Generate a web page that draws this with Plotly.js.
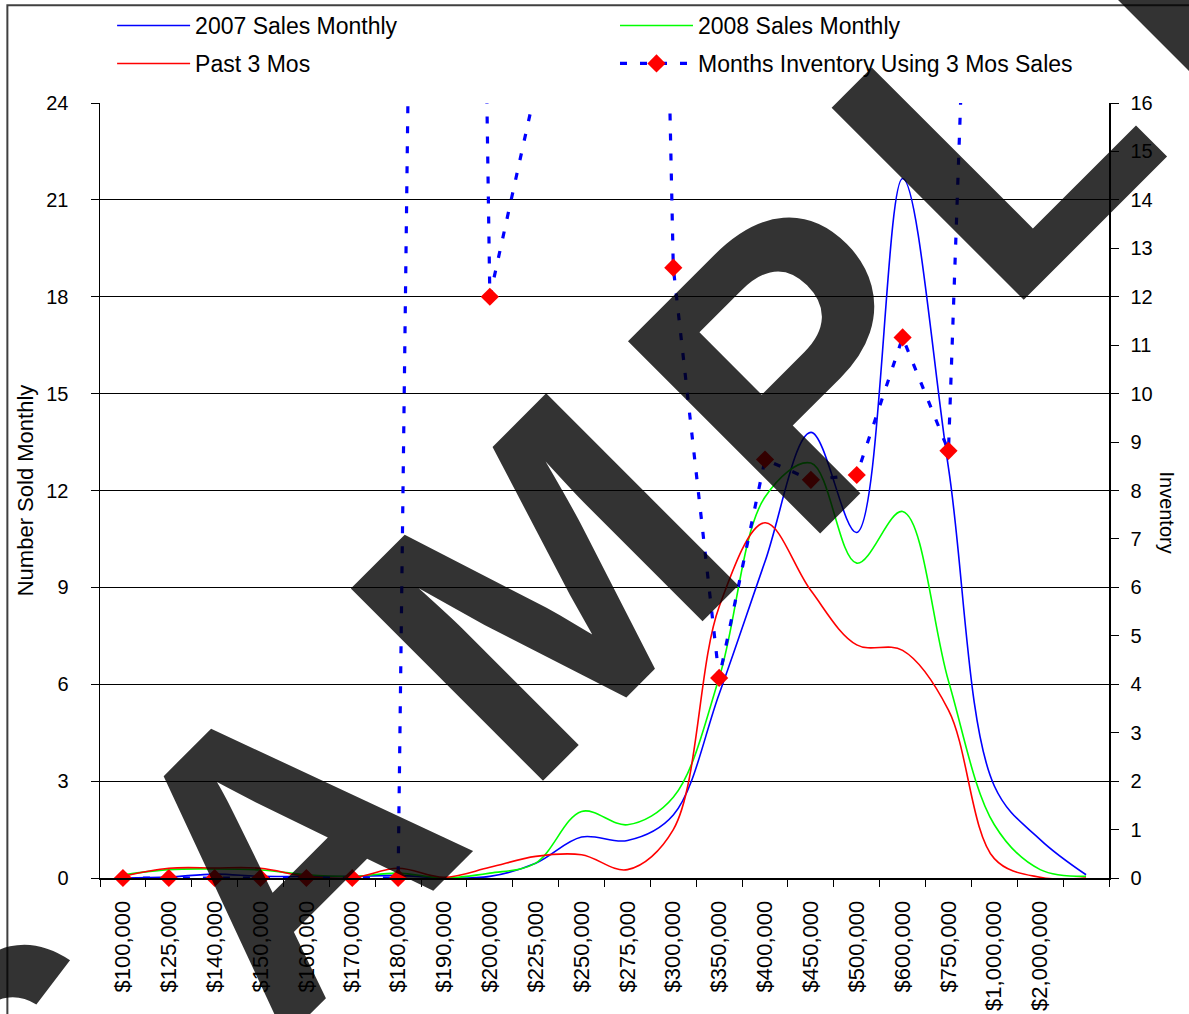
<!DOCTYPE html>
<html>
<head>
<meta charset="utf-8">
<script src="https://cdn.plot.ly/plotly-3.0.1.min.js"></script>
<style>
  html, body { margin: 0; padding: 0; background: #ffffff; }
  #chart { width: 1189px; height: 1014px; }
</style>
</head>
<body>
<div id="chart"></div>
<script>
// ---- data ----
const priceLabels = ['$100,000', '$125,000', '$140,000', '$150,000', '$160,000', '$170,000',
  '$180,000', '$190,000', '$200,000', '$225,000', '$250,000', '$275,000', '$300,000',
  '$350,000', '$400,000', '$450,000', '$500,000', '$600,000', '$750,000', '$1,000,000',
  '$2,000,000', ' '];

const sales2007 = [0, 0.03, 0.12, 0.05, 0.05, 0.05, 0.08, 0, 0.05, 0.46, 1.27, 1.16, 1.95,
  5.7, 9.8, 13.8, 10.7, 21.66, 12.7, 2.85, 1.19, 0.1];

const sales2008 = [0.1, 0.26, 0.28, 0.25, 0.1, 0.05, 0.15, 0, 0.15, 0.46, 2.06, 1.65, 2.5,
  6.2, 11.8, 12.85, 9.75, 11.35, 6.1, 1.65, 0.26, 0.05];

const past3Mos = [0.05, 0.3, 0.31, 0.3, 0.05, 0, 0.3, 0.02, 0.33, 0.67, 0.72, 0.26, 1.5,
  8.4, 11.0, 8.9, 7.22, 7.05, 5.2, 0.6, 0.02, 0];

// months of inventory (right axis); values above 16 run off the top of the chart
const monthsInventory = [0, 0, 0, 0, 0, 0, 0, 75, 12, 16.3, 60, 57, 12.6,
  4.13, 8.64, 8.22, 8.32, 11.16, 8.82, 36, 40, 40];

const leftTicks = [0, 3, 6, 9, 12, 15, 18, 21, 24];
const rightTicks = [0, 1, 2, 3, 4, 5, 6, 7, 8, 9, 10, 11, 12, 13, 14, 15, 16];
const watermark = ['S', 'A', 'M', 'P', 'L', 'E'];

// ---- chart ----
const FONT = 'Liberation Sans, Arial, Helvetica, sans-serif';

const traces = [
  { x: priceLabels, y: sales2007, name: '2007 Sales Monthly', type: 'scatter', mode: 'lines',
    line: { color: '#0000FF', width: 1.6, shape: 'spline', smoothing: 1 }, legend: 'legend' },
  { x: priceLabels, y: sales2008, name: '2008 Sales Monthly', type: 'scatter', mode: 'lines',
    line: { color: '#00FF00', width: 1.6, shape: 'spline', smoothing: 1 }, legend: 'legend2' },
  { x: priceLabels, y: past3Mos, name: 'Past 3 Mos', type: 'scatter', mode: 'lines',
    line: { color: '#FF0000', width: 1.6, shape: 'spline', smoothing: 1 }, legend: 'legend3' },
  { x: priceLabels, y: monthsInventory, name: 'Months Inventory Using 3 Mos Sales', type: 'scatter',
    mode: 'lines+markers', yaxis: 'y2', cliponaxis: false,
    line: { color: '#0000FF', width: 3.2, dash: '7px,13px', shape: 'linear' },
    marker: { symbol: 'diamond', size: 14, color: '#FF0000', line: { width: 0 } },
    legend: 'legend4' }
];

const wmPos = [[-0.0574, -0.2704], [0.1806, 0.0391], [0.440, 0.377], [0.6917, 0.6657], [0.886, 0.957], [1.089, 1.221]];
const annotations = watermark.map((ch, i) => ({
  text: ch, xref: 'paper', yref: 'paper', x: wmPos[i][0], y: wmPos[i][1],
  xanchor: 'center', yanchor: 'middle', showarrow: false, textangle: -45,
  font: { family: FONT, size: 395, color: 'rgba(0,0,0,0.8)', weight: 'bold' }
}));
annotations.unshift({
  text: 'Inventory', xref: 'paper', yref: 'paper', x: 1.058, y: 0.4723,
  xanchor: 'center', yanchor: 'middle', showarrow: false, textangle: 90,
  font: { family: FONT, size: 20, color: '#000000' }
});

function legendAt(x, y) {
  return {
    x: x, y: y, xanchor: 'left', yanchor: 'middle', itemwidth: 73,
    bgcolor: 'rgba(0,0,0,0)', borderwidth: 0,
    font: { family: FONT, size: 23, color: '#000000' }
  };
}

const layout = {
  width: 1189, height: 1014,
  margin: { l: 100, r: 80, t: 103, b: 136, pad: 0, autoexpand: false },
  paper_bgcolor: '#ffffff', plot_bgcolor: '#ffffff',
  font: { family: FONT, color: '#000000' },
  showlegend: true,
  legend: legendAt(0.012, 1.100),
  legend2: legendAt(0.5104, 1.100),
  legend3: legendAt(0.012, 1.051),
  legend4: legendAt(0.5104, 1.051),
  xaxis: {
    type: 'category', categoryorder: 'array', categoryarray: priceLabels,
    range: [-0.5, priceLabels.length - 0.5],
    tickson: 'boundaries', ticks: 'outside', ticklen: 7, tickcolor: '#000', tickwidth: 1,
    tickangle: -90, tickfont: { family: FONT, size: 22, color: '#000' },
    ticklabelstandoff: 12,
    showline: true, linecolor: '#000', linewidth: 2, showgrid: false, zeroline: false,
    fixedrange: true
  },
  yaxis: {
    range: [0, 24], tickvals: leftTicks, ticktext: leftTicks.map(String),
    ticks: 'outside', ticklen: 8, tickcolor: '#000', tickwidth: 1,
    tickfont: { family: FONT, size: 20, color: '#000' }, ticklabelstandoff: 18,
    showline: true, linecolor: '#000', linewidth: 1.5,
    showgrid: true, gridcolor: '#000', gridwidth: 1, zeroline: false,
    title: { text: 'Number Sold Monthly', font: { family: FONT, size: 22, color: '#000' }, standoff: 6 },
    fixedrange: true
  },
  yaxis2: {
    overlaying: 'y', side: 'right', range: [0, 16], tickvals: rightTicks, ticktext: rightTicks.map(String),
    ticks: 'outside', ticklen: 8, tickcolor: '#000', tickwidth: 1,
    tickfont: { family: FONT, size: 20, color: '#000' }, ticklabelstandoff: 8,
    showline: true, linecolor: '#000', linewidth: 1.5, showgrid: false, zeroline: false,
    fixedrange: true
  },
  shapes: [
    { type: 'rect', xref: 'paper', yref: 'paper', x0: -0.0918, x1: 1.4, y0: -0.5, y1: 1.126,
      line: { color: '#404040', width: 2 }, fillcolor: 'rgba(0,0,0,0)', layer: 'below' }
  ],
  annotations: annotations,
  hovermode: false
};

Plotly.newPlot('chart', traces, layout, { displayModeBar: false, staticPlot: true });
</script>
</body>
</html>
